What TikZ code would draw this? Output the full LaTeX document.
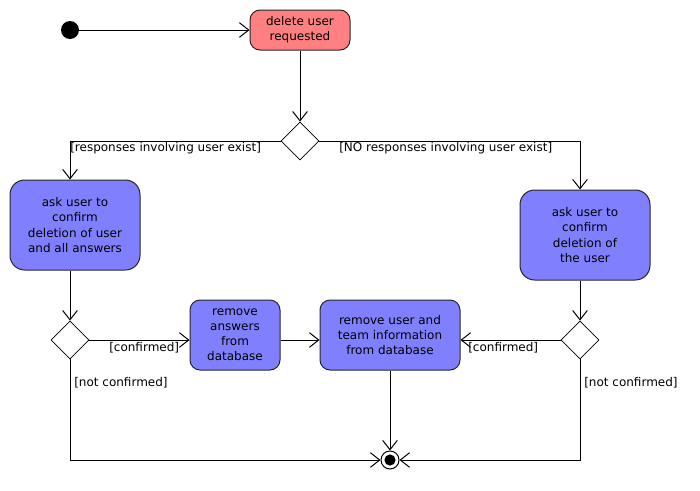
\documentclass[tikz,border=0pt]{standalone}
\usepackage{fontspec}
\setmainfont{DejaVu Sans}
\usetikzlibrary{arrows.meta,shapes.geometric}
\definecolor{startred}{HTML}{FF8080}
\definecolor{actblue}{HTML}{8080FF}
\begin{document}
\begin{tikzpicture}[x=0.75pt,y=-0.75pt,
  font=\fontsize{9pt}{11.3pt}\selectfont,
  action/.style={draw=black!85,line width=0.75pt,rounded corners=7.5pt,
    align=center,inner sep=0pt,fill=actblue},
  choice/.style={draw,diamond,line width=0.6pt,minimum width=28.5pt,
    minimum height=28.5pt,inner sep=0pt,fill=white},
  flow/.style={line width=0.75pt,-{Straight Barb[length=7pt,width=11pt]}},
  guard/.style={inner sep=0pt,anchor=west}]
\useasboundingbox (0,0) rectangle (700,490);

% initial and final states
\node[circle,fill=black,minimum size=13.5pt,inner sep=0pt] (start) at (70,30) {};
\node[circle,draw,line width=0.75pt,minimum size=13.5pt,inner sep=0pt] (end) at (390,460) {};
\fill (end) circle (4.2pt);

% actions
\node[action,fill=startred,minimum width=75pt,minimum height=30pt] (req) at (300,30)
  {delete user\\requested};
\node[action,rounded corners=11pt,minimum width=97.5pt,minimum height=67.5pt] (askall) at (75,225)
  {ask user to\\confirm\\deletion of user\\and all answers};
\node[action,rounded corners=11pt,minimum width=97.5pt,minimum height=67.5pt] (askuser) at (585,235)
  {ask user to\\confirm\\deletion of\\the user};
\node[action,minimum width=67.5pt,minimum height=52.5pt] (remans) at (235,335)
  {remove\\answers\\from\\database};
\node[action,minimum width=105pt,minimum height=52.5pt] (remuser) at (390,335)
  {remove user and\\team information\\from database};

% decisions
\node[choice] (d0) at (300,141) {};
\node[choice] (dl) at (70,340) {};
\node[choice] (dr) at (580,340) {};

% connectors
\draw[flow] (start) -- (req);
\draw[flow] (req) -- (d0.north);
\draw[flow] (d0.west) -| (askall.north -| dl);
\draw[flow] (d0.east) -| (askuser.north -| dr);
\draw[flow] (askall.south -| dl) -- (dl.north);
\draw[flow] (askuser.south -| dr) -- (dr.north);
\draw[flow] (dl.east) -- (remans.west |- dl);
\draw[flow] (remans.east |- dl) -- (remuser.west |- dl);
\draw[flow] (dr.west) -- (remuser.east |- dr);
\draw[flow] (remuser.south -| end) -- (end.north);
\draw[flow] (dl.south) |- (end.west);
\draw[flow] (dr.south) |- (end.east);

% guards
\node[guard] (g1) at (70,148) {[responses involving user exist]};
\node[guard] (g2) at (339,148) {[NO responses involving user exist]};
\node[guard] (g3) at (109,348) {[confirmed]};
\node[guard] (g4) at (468,348) {[confirmed]};
\node[guard] (g5) at (74,383) {[not confirmed]};
\node[guard] (g6) at (584,383) {[not confirmed]};
\end{tikzpicture}
\end{document}
